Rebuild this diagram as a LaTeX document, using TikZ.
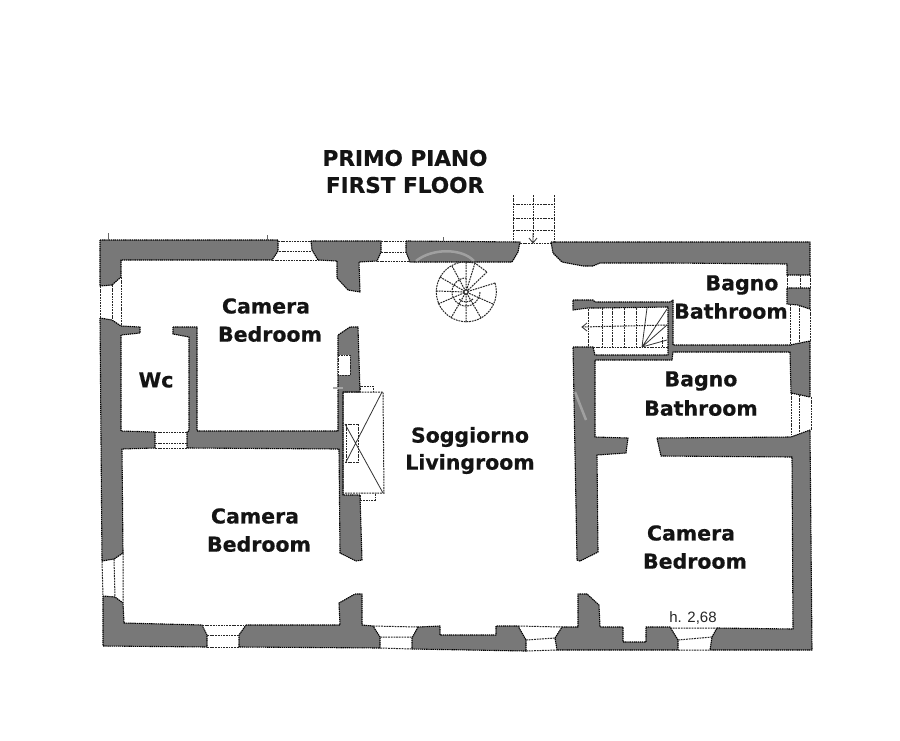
\documentclass[tikz,border=0pt]{standalone}
\usepackage{fontspec}
\setmainfont{Liberation Sans}
\newfontfamily\lblfont[FakeBold=0.5]{DejaVu Sans Bold}
\definecolor{wallgray}{HTML}{787878}
\tikzset{
 wall/.style={fill=wallgray,draw=black,line width=1.1pt,dash pattern=on 1.4pt off .7pt,line join=round},
 thin/.style={draw=black!85,line width=1pt,dash pattern=on 1.8pt off .9pt},
 fine/.style={draw=black!80,line width=.8pt},
 lbl/.style={font=\lblfont\fontsize{20.5}{22}\selectfont,text=black!92,inner sep=0pt,align=center},
 ttl/.style={font=\lblfont\fontsize{21.6}{23}\selectfont,text=black!92,inner sep=0pt,align=center},
 wmark/.style={draw=white,opacity=.3,line width=2.5pt},
}
\begin{document}
\begin{tikzpicture}[x=1pt,y=-1pt]
\useasboundingbox[fill=white] (0,0) rectangle (900,740);
% walls
\draw[wall] (100,240)--(278,240)--(278,251)--(272,260)--(121,260)--(121,277)--(112,285)--(100,286)--cycle;
\draw[wall] (311,241)--(381,241)--(381,252)--(377,261)--(359,262)--(360,292)--(348,290)--(337,278)--(337,261)--(318,260)--(312,250)--cycle;
\draw[wall] (406,241)--(520,242)--(518,252)--(512,262)--(410,262)--(406,252)--cycle;
\draw[wall] (551,242)--(810,242)--(810,275)--(787,275)--(787,264)--(670,263)--(600,263)--(593,266)--(583,266)--(562,262)--(553,253)--cycle;
\draw[wall] (787,288)--(810,288)--(810,309)--(798,305)--(787,304)--cycle;
\draw[wall] (100,318)--(112,320)--(121,326)--(140,327)--(140,333)--(121,335)--(121,431)--(155,432)--(155,448)--(122,449)--(123,553)--(114,559)--(102,561)--cycle;
\draw[wall] (173,327)--(197,327)--(197,431)--(338,431)--(338,335)--(350,327)--(358,327)--(360,392)--(343,392)--(343,495)--(360,495)--(362,560)--(356,561)--(340,553)--(339,449)--(187,448)--(187,432)--(189,431)--(189,337)--(173,334)--cycle;
\draw[wall] (573,300)--(593,300)--(595,302)--(670,302)--(673,300)--(673,345)--(790,345)--(810,341)--(810,397)--(791,393)--(790,352)--(673,352)--(672,360)--(595,360)--(595,437)--(628,438)--(626,453)--(597,455)--(598,552)--(580,561)--(577,560)--(573,347)--(593,347)--(595,355)--(668,355)--(668,307)--(600,308)--(588,308)--(573,310)--cycle;
\draw[wall] (657,438)--(791,437)--(810,430)--(812,650)--(710,650)--(712,637)--(717,628)--(793,629)--(792,457)--(661,456)--cycle;
\draw[wall] (103,596)--(115,597)--(123,603)--(124,623)--(202,625)--(207,635)--(207,647)--(103,646)--cycle;
\draw[wall] (246,625)--(340,625)--(339,603)--(355,594)--(362,594)--(362,625)--(373,626)--(380,637)--(380,648)--(239,647)--(239,635)--cycle;
\draw[wall] (418,627)--(440,626)--(440,635)--(496,635)--(496,626)--(518,626)--(526,640)--(526,651)--(412,649)--(412,638)--cycle;
\draw[wall] (562,627)--(578,627)--(578,594)--(587,594)--(599,605)--(600,627)--(623,627)--(623,642)--(646,642)--(646,627)--(670,627)--(678,640)--(678,650)--(557,650)--(555,638)--cycle;
% watermark traces on the walls
\draw[wmark] (416,261) .. controls (432,248) and (462,248) .. (474,261);
\draw[wmark] (586,420) -- (575,392);
% niche
\draw[thin,fill=white] (338,355) rectangle (350,375);
% windows, top wall
\draw[thin] (278,241)--(311,241) (279,251)--(311,251) (272,260)--(318,260);
\draw[thin] (381,241)--(406,241) (381,252)--(406,252) (377,261)--(410,261);
% window, wc wall
\draw[thin] (155,432)--(187,432) (155,443)--(187,443) (155,448)--(187,448);
% left windows
\draw[thin] (100,286)--(100,318) (112,285)--(112,320) (121,277)--(121,326);
\draw[thin] (102,561)--(103,596) (114,559)--(115,597) (123,553)--(123,603);
% right windows
\draw[thin] (787,275)--(787,288) (810,275)--(810,288) (800,275)--(800,288);
\draw[thin] (790,304)--(790,346) (799,305)--(799,344) (810,309)--(810,341);
\draw[thin] (791,393)--(791,437) (799,395)--(799,434) (811,397)--(811,430);
% bottom windows
\draw[thin] (202,625)--(246,625) (207,635)--(239,635) (207,647)--(239,647);
\draw[thin] (373,626)--(418,627) (380,637)--(412,637) (380,648)--(412,649);
\draw[thin] (518,626)--(562,627) (526,640)--(555,638) (526,651)--(557,650);
\draw[thin] (670,628)--(717,628) (678,640)--(712,637) (678,650)--(710,650);
% entrance stair
\draw[thin] (513,195)--(513,243) (533,195)--(533,236) (554,195)--(554,243);
\draw[thin] (513,204)--(554,204) (513,218)--(554,218) (513,230)--(554,230);
\draw[thin] (520,243)--(551,243);
\draw[fine] (533,233)--(533,243) (529,238)--(533,243)--(537,238);
% spiral stair
\draw[thin] (495,283) arc[start angle=-17,end angle=270,radius=30];
\draw[thin] (466,262) -- (475,263) -- (487,272);
\draw[thin] (487,272) -- (466,292);
\draw[thin] (495,283)--(466,292) (493,304)--(466,292) (481,318)--(466,292) (466,322)--(466,292) (451,318)--(466,292) (438,304)--(466,292) (436,291)--(466,292) (440,277)--(466,292) (452,266)--(466,292) (466,262)--(466,292) (475,263)--(466,292);
\draw[thin] (480,292) arc[start angle=0,end angle=270,radius=14];
\draw[thin] (473,299) arc[start angle=45,end angle=135,radius=10];
\draw[fine,fill=white,line width=1.2pt] (466,292) circle[radius=2.2];
% fireplace
\draw[thin] (343,392)--(383,392)--(384,493)--(343,493)--cycle;
\draw[thin] (345,424)--(358,424) (345,462)--(358,462) (346,424)--(346,462) (358,424)--(358,462);
\draw[fine] (382,392)--(346,462) (345,424)--(383,493);
\draw[thin] (360,390)--(360,386)--(373,386)--(373,391);
\draw[thin] (360,495)--(360,500)--(375,500)--(375,494);
\draw[draw=black!35,line width=1.2pt] (333,388)--(343,388);
% inner stair
\draw[thin] (582,327)--(668,325);
\draw[thin] (588,309)--(588,347);
\draw[thin] (602,308)--(602,347) (612,308)--(612,347) (624,308)--(624,347) (636,308)--(636,347);
\draw[thin] (593,347)--(668,347);
\draw[fine] (642,347)--(647,308) (642,347)--(667,309) (642,347)--(667,325) (642,347)--(667,340);
\draw[thin] (662,337)--(662,347);
\draw[fine] (587,323)--(582,327)--(587,331);
% ticks
\draw[draw=black!60,line width=.6pt] (108,233)--(108,240) (267,235)--(267,240) (443,237)--(443,241);
% labels
\node[ttl] (t1) at (405,158) {PRIMO PIANO};
\node[ttl] (t2) at (405,185) {FIRST FLOOR};
\node[lbl] (c1) at (266,306) {Camera};
\node[lbl] (c2) at (270,334) {Bedroom};
\node[lbl] (wc) at (156,380) {Wc};
\node[lbl] (b1) at (742,285) {Bagno};
\node[lbl] (b2) at (731,311) {Bathroom};
\node[lbl] (b3) at (701,381) {Bagno};
\node[lbl] (b4) at (701,408) {Bathroom};
\node[lbl] (s1) at (470,437) {Soggiorno};
\node[lbl] (s2) at (470,464) {Livingroom};
\node[lbl] (c3) at (255,516) {Camera};
\node[lbl] (c4) at (259,544) {Bedroom};
\node[lbl] (c5) at (691,533) {Camera};
\node[lbl] (c6) at (695,561) {Bedroom};
\node[inner sep=0pt,font=\fontsize{15}{16}\selectfont,text=black!85] (h) at (693,618) {h. 2,68};
\end{tikzpicture}
\end{document}
